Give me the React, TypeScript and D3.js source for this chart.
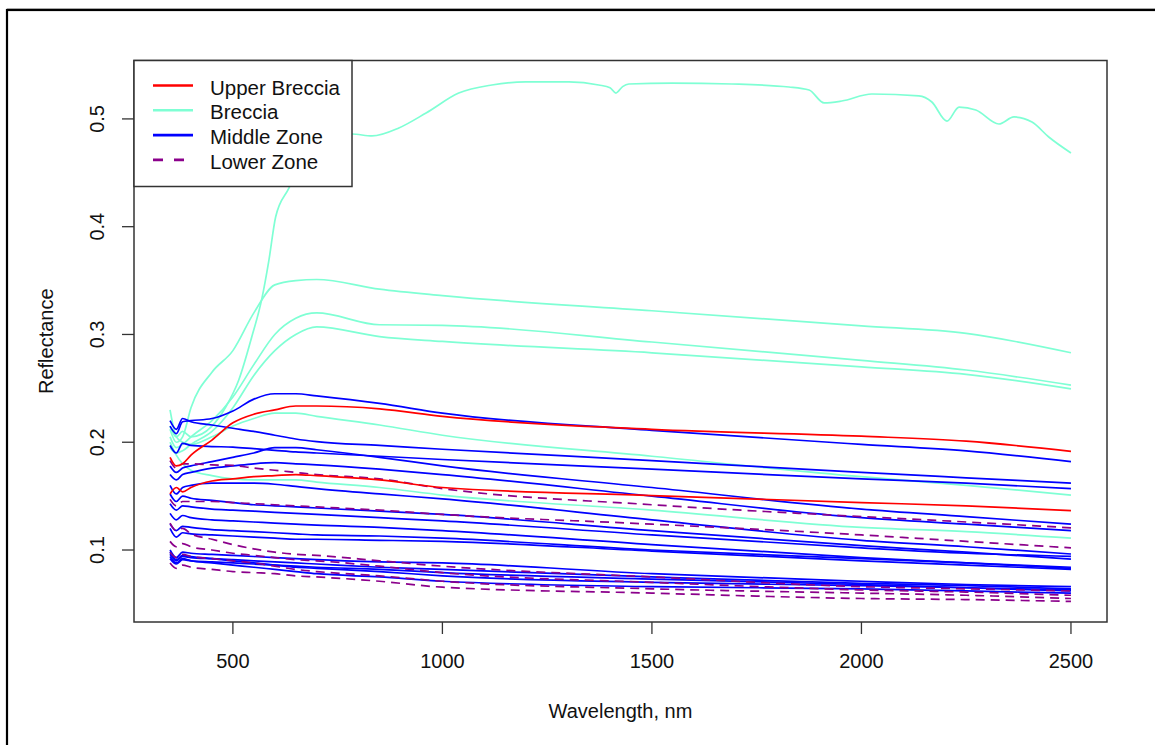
import React from 'react';
import * as d3 from 'd3';

// ---------- DATA ----------
const wavelengths = [350, 365, 380, 400, 450, 500, 550, 600, 650, 700, 850, 1000, 1500, 2000, 2250, 2500];

// Upper Breccia (red)
const upperBrecciaA = [0.186, 0.178, 0.180, 0.188, 0.202, 0.218, 0.226, 0.230, 0.2336, 0.2336, 0.231, 0.224, 0.212, 0.2056, 0.201, 0.1916];
const upperBrecciaB = [0.152, 0.158, 0.154, 0.158, 0.164, 0.166, 0.168, 0.169, 0.170, 0.169, 0.165, 0.158, 0.1505, 0.144, 0.141, 0.1365];

// Breccia (aquamarine)
const brecciaTopWavelengths = [350, 365, 380, 400, 450, 483, 514, 545, 569, 586, 602, 634, 660, 700, 750, 784, 832, 896, 961, 1039, 1118, 1199, 1302, 1373, 1400, 1414, 1430, 1445, 1548, 1691, 1827, 1875, 1911, 1953, 2025, 2137, 2168, 2204, 2233, 2273, 2328, 2364, 2407, 2447, 2500];
const brecciaTopValues = [0.215, 0.205, 0.210, 0.205, 0.215, 0.2327, 0.2577, 0.2976, 0.333, 0.369, 0.409, 0.436, 0.458, 0.476, 0.484, 0.486, 0.4842, 0.4916, 0.5055, 0.524, 0.5315, 0.5343, 0.5343, 0.5315, 0.529, 0.524, 0.530, 0.5324, 0.5333, 0.5324, 0.5296, 0.5268, 0.5148, 0.5166, 0.5231, 0.5213, 0.5157, 0.498, 0.511, 0.5083, 0.4953, 0.5018, 0.4971, 0.4832, 0.4684];
const brecciaB = [0.212, 0.200, 0.205, 0.232, 0.265, 0.285, 0.320, 0.346, 0.350, 0.351, 0.342, 0.336, 0.322, 0.308, 0.301, 0.283];
const brecciaC = [0.205, 0.195, 0.198, 0.205, 0.220, 0.242, 0.272, 0.300, 0.315, 0.320, 0.309, 0.3085, 0.293, 0.276, 0.267, 0.253];
const brecciaD = [0.195, 0.190, 0.192, 0.198, 0.210, 0.232, 0.262, 0.285, 0.300, 0.307, 0.298, 0.2935, 0.283, 0.270, 0.263, 0.2495];
const brecciaE = [0.230, 0.205, 0.200, 0.198, 0.205, 0.215, 0.222, 0.227, 0.227, 0.224, 0.216, 0.2065, 0.187, 0.168, 0.160, 0.151];
const brecciaF = [0.200, 0.188, 0.180, 0.174, 0.169, 0.166, 0.165, 0.165, 0.165, 0.163, 0.158, 0.151, 0.137, 0.121, 0.117, 0.111];

// Middle Zone (blue)
const middleA = [0.215, 0.208, 0.219, 0.220, 0.222, 0.229, 0.240, 0.245, 0.245, 0.243, 0.236, 0.227, 0.211, 0.198, 0.192, 0.182];
const middleB = [0.220, 0.212, 0.222, 0.219, 0.216, 0.213, 0.210, 0.2065, 0.203, 0.2005, 0.197, 0.1935, 0.183, 0.172, 0.167, 0.162];
const middleC = [0.197, 0.190, 0.199, 0.197, 0.196, 0.1955, 0.194, 0.1925, 0.191, 0.190, 0.187, 0.184, 0.175, 0.166, 0.162, 0.157];
const middleD = [0.178, 0.172, 0.176, 0.178, 0.182, 0.186, 0.190, 0.195, 0.195, 0.193, 0.186, 0.178, 0.158, 0.138, 0.131, 0.124];
const middleE = [0.170, 0.165, 0.170, 0.172, 0.176, 0.178, 0.180, 0.181, 0.180, 0.179, 0.175, 0.170, 0.150, 0.130, 0.124, 0.118];
const middleF = [0.160, 0.152, 0.158, 0.160, 0.162, 0.162, 0.162, 0.161, 0.159, 0.157, 0.152, 0.1475, 0.128, 0.109, 0.103, 0.0963];
const middleG = [0.152, 0.145, 0.150, 0.148, 0.146, 0.144, 0.142, 0.141, 0.140, 0.139, 0.136, 0.133, 0.118, 0.104, 0.098, 0.0916];
const middleH = [0.143, 0.137, 0.141, 0.140, 0.138, 0.137, 0.136, 0.135, 0.134, 0.133, 0.130, 0.127, 0.114, 0.102, 0.097, 0.094];
const middleI = [0.134, 0.128, 0.132, 0.130, 0.128, 0.127, 0.126, 0.125, 0.124, 0.123, 0.121, 0.118, 0.105, 0.093, 0.088, 0.083];
const middleJ = [0.124, 0.118, 0.122, 0.121, 0.119, 0.118, 0.117, 0.116, 0.115, 0.114, 0.113, 0.111, 0.100, 0.092, 0.088, 0.084];
const middleK = [0.120, 0.112, 0.116, 0.115, 0.114, 0.113, 0.112, 0.111, 0.110, 0.110, 0.109, 0.108, 0.099, 0.090, 0.086, 0.082];
const middleL = [0.100, 0.093, 0.098, 0.097, 0.096, 0.095, 0.094, 0.093, 0.092, 0.091, 0.089, 0.088, 0.078, 0.071, 0.068, 0.066];
const middleM = [0.096, 0.090, 0.094, 0.093, 0.092, 0.091, 0.090, 0.089, 0.088, 0.087, 0.084, 0.082, 0.075, 0.069, 0.067, 0.064];
const middleN = [0.092, 0.087, 0.091, 0.090, 0.089, 0.088, 0.087, 0.086, 0.085, 0.084, 0.082, 0.079, 0.073, 0.068, 0.065, 0.062];
const middleO = [0.098, 0.091, 0.095, 0.094, 0.092, 0.090, 0.088, 0.086, 0.084, 0.083, 0.080, 0.076, 0.070, 0.067, 0.065, 0.063];
const middleP = [0.094, 0.088, 0.092, 0.090, 0.088, 0.086, 0.084, 0.082, 0.080, 0.078, 0.075, 0.071, 0.066, 0.064, 0.062, 0.060];

// Lower Zone (dark magenta, dashed)
const lowerA = [0.183, 0.176, 0.180, 0.180, 0.179, 0.1785, 0.176, 0.174, 0.172, 0.170, 0.166, 0.157, 0.142, 0.131, 0.126, 0.1206];
const lowerB = [0.147, 0.141, 0.145, 0.145, 0.145, 0.144, 0.143, 0.142, 0.141, 0.140, 0.137, 0.133, 0.124, 0.114, 0.108, 0.102];
const lowerC = [0.125, 0.118, 0.120, 0.115, 0.110, 0.105, 0.101, 0.098, 0.096, 0.095, 0.090, 0.085, 0.075, 0.066, 0.064, 0.062];
const lowerD = [0.108, 0.103, 0.106, 0.103, 0.100, 0.097, 0.095, 0.093, 0.091, 0.090, 0.085, 0.079, 0.070, 0.063, 0.061, 0.058];
const lowerE = [0.098, 0.093, 0.096, 0.094, 0.092, 0.090, 0.088, 0.085, 0.082, 0.080, 0.076, 0.071, 0.064, 0.060, 0.058, 0.055];
const lowerF = [0.088, 0.083, 0.086, 0.084, 0.082, 0.080, 0.079, 0.078, 0.076, 0.075, 0.071, 0.0655, 0.060, 0.055, 0.054, 0.0523];

const groups = ['Upper Breccia', 'Breccia', 'Middle Zone', 'Lower Zone'];
const groupColors = ['#FF0000', '#7FFFD4', '#0000FF', '#8B008B'];
const groupDashed = [false, false, false, true];

const xTicks = [500, 1000, 1500, 2000, 2500];
const yTicks = [0.1, 0.2, 0.3, 0.4, 0.5];
const xDomain = [264, 2586];
const yDomain = [0.0332, 0.5542];

type Series = { group: number; w: number[]; v: number[] };
const seriesList: Series[] = [
  { group: 1, w: brecciaTopWavelengths, v: brecciaTopValues },
  ...[brecciaB, brecciaC, brecciaD, brecciaE, brecciaF].map((v) => ({ group: 1, w: wavelengths, v })),
  ...[middleA, middleB, middleC, middleD, middleE, middleF, middleG, middleH, middleI, middleJ, middleK, middleL, middleM, middleN, middleO, middleP].map((v) => ({ group: 2, w: wavelengths, v })),
  ...[lowerA, lowerB, lowerC, lowerD, lowerE, lowerF].map((v) => ({ group: 3, w: wavelengths, v })),
  ...[upperBrecciaA, upperBrecciaB].map((v) => ({ group: 0, w: wavelengths, v })),
];

// ---------- LAYOUT ----------
const W = 1155;
const H = 745;
const plot = { left: 134, right: 1107, top: 60.5, bottom: 622 };
const FONT = '"Liberation Sans", Arial, sans-serif';

export default function App() {
  const x = d3.scaleLinear().domain(xDomain).range([plot.left, plot.right]);
  const y = d3.scaleLinear().domain(yDomain).range([plot.bottom, plot.top]);

  const lineGen = (s: Series) =>
    d3
      .line<number>()
      .curve(d3.curveMonotoneX)
      .x((_, i) => x(s.w[i]))
      .y((d) => y(d))(s.v) || '';

  const legendX = plot.left;
  const legendY = plot.top;
  const legendW = 218;
  const legendH = 126;

  return (
    <svg
      width={W}
      height={H}
      style={{ position: 'absolute', left: 0, top: 0, background: '#fff' }}
      fontFamily={FONT}
    >
      <rect x={0} y={0} width={W} height={H} fill="#fff" />
      {/* outer frame */}
      <line x1={7} y1={8.5} x2={W} y2={8.5} stroke="#bbb" strokeWidth={1} />
      <rect x={7} y={10} width={W + 20} height={H + 20} fill="none" stroke="#000" strokeWidth={2.2} />

      <defs>
        <clipPath id="plotclip">
          <rect x={plot.left} y={plot.top} width={plot.right - plot.left} height={plot.bottom - plot.top} />
        </clipPath>
      </defs>

      <g clipPath="url(#plotclip)">
        {seriesList.map((s, i) => (
          <path
            key={i}
            d={lineGen(s)}
            fill="none"
            stroke={groupColors[s.group]}
            strokeWidth={1.7}
            strokeDasharray={groupDashed[s.group] ? '9,6' : undefined}
            strokeLinejoin="round"
          />
        ))}
      </g>

      {/* plot box */}
      <rect
        x={plot.left}
        y={plot.top}
        width={plot.right - plot.left}
        height={plot.bottom - plot.top}
        fill="none"
        stroke="#333"
        strokeWidth={1.5}
      />

      {/* x axis */}
      {xTicks.map((t) => (
        <g key={t}>
          <line x1={x(t)} x2={x(t)} y1={plot.bottom} y2={plot.bottom + 12} stroke="#333" strokeWidth={1.3} />
          <text x={x(t)} y={plot.bottom + 46} textAnchor="middle" fontSize={20} fill="#111">
            {t}
          </text>
        </g>
      ))}
      <text x={(plot.left + plot.right) / 2} y={plot.bottom + 96} textAnchor="middle" fontSize={20} fill="#111">
        Wavelength, nm
      </text>

      {/* y axis */}
      {yTicks.map((t) => (
        <g key={t}>
          <line x1={plot.left - 12} x2={plot.left} y1={y(t)} y2={y(t)} stroke="#333" strokeWidth={1.3} />
          <text
            transform={`translate(${plot.left - 30},${y(t)}) rotate(-90)`}
            textAnchor="middle"
            fontSize={20}
            fill="#111"
          >
            {d3.format('.1f')(t)}
          </text>
        </g>
      ))}
      <text
        transform={`translate(${plot.left - 81},${(plot.top + plot.bottom) / 2}) rotate(-90)`}
        textAnchor="middle"
        fontSize={20}
        fill="#111"
      >
        Reflectance
      </text>

      {/* legend */}
      <rect x={legendX} y={legendY} width={legendW} height={legendH} fill="#fff" stroke="#333" strokeWidth={1.5} />
      {groups.map((g, i) => {
        const ly = 85.5 + 24.8 * i;
        return (
          <g key={g}>
            <line
              x1={153}
              x2={193}
              y1={ly}
              y2={ly}
              stroke={groupColors[i]}
              strokeWidth={2.6}
              strokeDasharray={groupDashed[i] ? '10,11' : undefined}
            />
            <text x={210} y={ly + 9} fontSize={20.5} fill="#111">
              {g}
            </text>
          </g>
        );
      })}
    </svg>
  );
}
